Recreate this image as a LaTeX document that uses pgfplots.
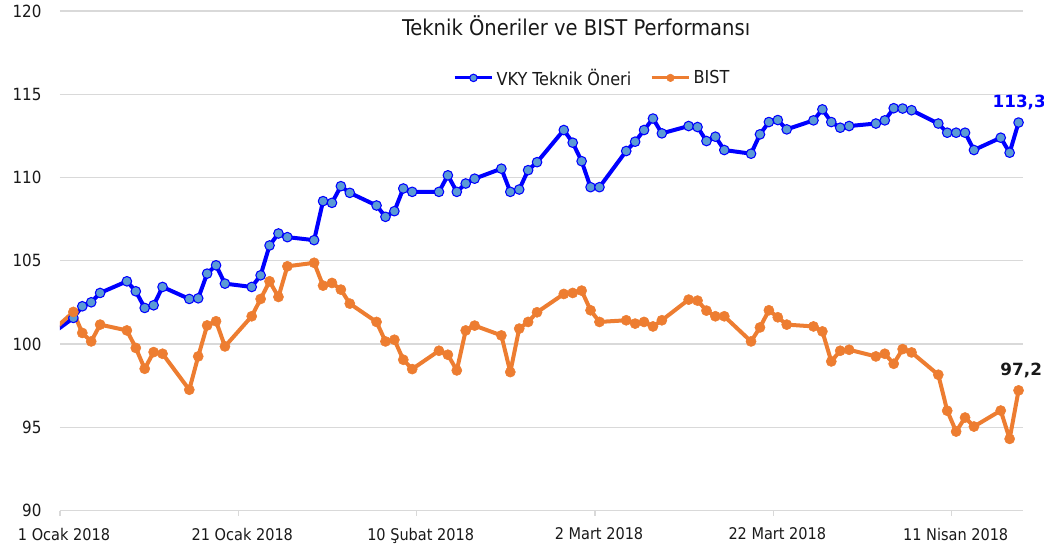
\documentclass[border=0pt]{standalone}
\usepackage{pgfplots}
\usepackage{pgfplotstable}
\pgfplotsset{compat=1.18}
\usepackage{fontspec}
\setmainfont{DejaVu Sans Condensed}
\newfontfamily\boldlab{DejaVu Sans}
\definecolor{vkyblue}{RGB}{0,0,255}
\definecolor{vkyfill}{RGB}{91,155,213}
\definecolor{bistor}{RGB}{237,125,49}
\definecolor{gridg}{RGB}{217,217,217}
\definecolor{txt}{RGB}{25,25,25}

\pgfplotstableread{
x vky bist
-2.5 100 100
1.5 101.57 101.93
2.5 102.27 100.67
3.5 102.51 100.16
4.5 103.07 101.17
7.5 103.77 100.82
8.5 103.17 99.77
9.5 102.17 98.52
10.5 102.33 99.52
11.5 103.43 99.42
14.5 102.71 97.26
15.5 102.75 99.26
16.5 104.23 101.12
17.5 104.73 101.37
18.5 103.63 99.86
21.5 103.43 101.67
22.5 104.13 102.71
23.5 105.92 103.77
24.5 106.64 102.83
25.5 106.42 104.67
28.5 106.24 104.88
29.5 108.58 103.51
30.5 108.48 103.67
31.5 109.48 103.27
32.5 109.08 102.43
35.5 108.32 101.33
36.5 107.64 100.16
37.5 107.98 100.26
38.5 109.34 99.06
39.5 109.14 98.50
42.5 109.14 99.60
43.5 110.13 99.36
44.5 109.14 98.42
45.5 109.64 100.82
46.5 109.93 101.11
49.5 110.53 100.52
50.5 109.14 98.32
51.5 109.28 100.93
52.5 110.44 101.33
53.5 110.92 101.91
56.5 112.85 103.01
57.5 112.09 103.07
58.5 110.98 103.21
59.5 109.42 102.03
60.5 109.42 101.33
63.5 111.59 101.43
64.5 112.15 101.23
65.5 112.85 101.33
66.5 113.54 101.06
67.5 112.65 101.43
70.5 113.09 102.67
71.5 113.03 102.61
72.5 112.19 102.01
73.5 112.45 101.67
74.5 111.65 101.67
77.5 111.43 100.16
78.5 112.59 101.00
79.5 113.33 102.03
80.5 113.45 101.61
81.5 112.89 101.17
84.5 113.43 101.06
85.5 114.09 100.76
86.5 113.33 98.96
87.5 112.99 99.60
88.5 113.09 99.66
91.5 113.24 99.26
92.5 113.43 99.42
93.5 114.16 98.82
94.5 114.14 99.70
95.5 114.04 99.50
98.5 113.24 98.16
99.5 112.69 96.00
100.5 112.69 94.75
101.5 112.69 95.59
102.5 111.65 95.05
105.5 112.39 96.01
106.5 111.49 94.31
107.5 113.30 97.22
}\data

\begin{document}
\begin{tikzpicture}
\useasboundingbox (-45pt,-30.2pt) rectangle (738pt,383pt);
\begin{axis}[
  scale only axis,
  width=722.25pt, height=374.8pt,
  xmin=0, xmax=108, ymin=90, ymax=120,
  xtick={0,20,40,60,80,100},
  xticklabels={1 Ocak 2018,21 Ocak 2018,10 Şubat 2018,2 Mart 2018,22 Mart 2018,11 Nisan 2018},
  ytick={90,95,...,120},
  ymajorgrids, grid style={gridg, line width=0.9pt},
  axis x line*=bottom, axis y line*=left,
  x axis line style={draw=gridg, line width=0.9pt, -},
  y axis line style={draw=none},
  xtick style={draw=gridg, line width=0.9pt},
  ytick style={draw=none},
  tick align=outside,
  major tick length=3.75pt,
  x tick label style={font=\fontsize{12.1}{15}\selectfont, text=txt, anchor=north, inner sep=0pt, yshift=-9pt, xshift=3pt},
  y tick label style={font=\fontsize{12.6}{15}\selectfont, text=txt, anchor=east, inner sep=0pt, xshift=-10pt},
  /pgf/number format/assume math mode=true,
  title={Teknik Öneriler ve BIST Performansı},
  title style={at={(0.536,0.954)}, anchor=center, font=\fontsize{16.3}{19}\selectfont, text=txt},
  legend style={at={(0.553,0.866)}, anchor=center, draw=none, fill=none,
    font=\fontsize{13.4}{16}\selectfont, text=txt,
    /tikz/every even column/.append style={column sep=12pt}},
  legend columns=2,
  legend image code/.code={\draw[line width=2.3pt, mark size=2.8pt, mark repeat=2,mark phase=2] plot coordinates {(0cm,0cm) (0.5cm,0cm) (1.0cm,0cm)};},
  line join=round,
]
\addplot[vkyblue, line width=3pt, mark=*, mark size=3.6pt,
  mark options={fill=vkyfill, draw=vkyblue, line width=0.8pt}] table[x=x,y=vky] {\data};
\addlegendentry{VKY Teknik Öneri}
\addplot[bistor, line width=3pt, mark=*, mark size=3.8pt,
  mark options={fill=bistor, draw=bistor, line width=0.4pt}] table[x=x,y=bist] {\data};
\addlegendentry{BIST}
\addplot[draw=none, forget plot, nodes near coords, point meta=explicit symbolic,
  every node near coord/.style={anchor=base, inner sep=0pt, yshift=11pt, xshift=0.5pt,
  font=\boldlab\bfseries\fontsize{12.6}{15}\selectfont, text=vkyblue}]
  coordinates {(107.5,113.3) [113,3]};
\addplot[draw=none, forget plot, nodes near coords, point meta=explicit symbolic,
  every node near coord/.style={anchor=base, inner sep=0pt, yshift=11pt, xshift=2pt,
  font=\boldlab\bfseries\fontsize{12.6}{15}\selectfont, text=txt}]
  coordinates {(107.5,97.22) [97,2]};
\end{axis}
\end{tikzpicture}
\end{document}
